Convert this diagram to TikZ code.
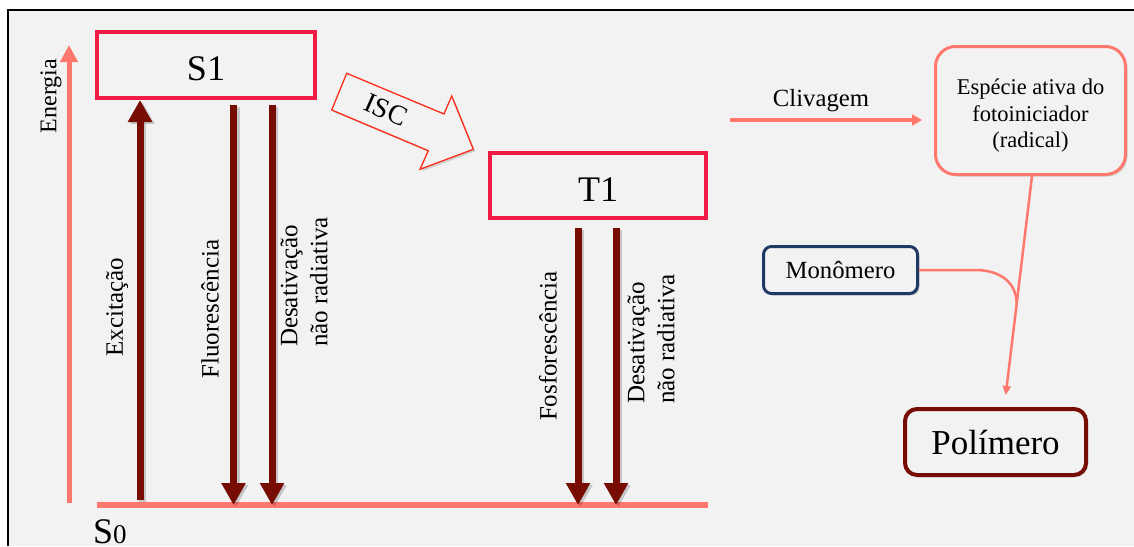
\documentclass[tikz,border=0pt]{standalone}
\usepackage{fontspec}
\setmainfont{Liberation Serif}
\usetikzlibrary{arrows.meta,shadows,calc}
\definecolor{bgc}{HTML}{F2F2F2}
\definecolor{salmon}{RGB}{255,120,110}
\definecolor{crim}{RGB}{240,28,70}
\definecolor{dred}{RGB}{118,12,2}
\definecolor{navy}{RGB}{31,56,100}
\definecolor{iscred}{RGB}{255,45,25}
\tikzset{
  shd/.style={drop shadow={shadow xshift=2pt,shadow yshift=-2pt,opacity=.3}},
  levelbox/.style={draw=crim,line width=4pt,fill=bgc,shd,font=\fontsize{36}{36}\selectfont,
    text height=31pt,text depth=0pt,inner sep=0pt},
  darr/.style={draw=dred,line width=7pt,-{Triangle[width=23pt,length=22pt]}},
  dshadow/.style={draw=black,opacity=.18,line width=7pt,-{Triangle[width=23pt,length=22pt]}},
  lbl/.style={font=\fontsize{25}{30}\selectfont,rotate=90,align=left},
  sarr/.style={draw=salmon,line width=3.5pt,-{Triangle[width=11pt,length=10pt]}},
  sline/.style={draw=salmon,line width=2.5pt},
  rbox/.style={fill=bgc,shd,rounded corners=#1,inner sep=0pt}
}
\begin{document}
\begin{tikzpicture}[x=1pt,y=-1pt]
\useasboundingbox (0,0) rectangle (1134,546);
\fill[white] (0,0) rectangle (1134,546);
\fill[bgc] (8,10) rectangle (1134,546);
\draw[line width=2pt] (8,546) -- (8,10) -- (1134,10);

% energy axis
\coordinate (en0) at (69,503);
\coordinate (en1) at (69,45);
\draw[salmon,line width=5pt,-{Triangle[width=17pt,length=17pt]}] (en0) -- (en1);
\node[font=\fontsize{24}{24}\selectfont,rotate=90] (energia) at (51,96) {Energia};

% ground state
\coordinate (s0a) at (97,505);
\coordinate (s0b) at (708,505);
\draw[salmon,line width=6pt] (s0a) -- (s0b);
\node[anchor=base west,inner sep=0pt] (S0) at (93,543) {\fontsize{36}{36}\selectfont S\fontsize{27}{27}\selectfont 0};

% level boxes
\node[levelbox,minimum width=218pt,minimum height=66pt] (S1) at (206,65) {S1};
\node[levelbox,minimum width=216pt,minimum height=65pt] (T1) at (598,185.5) {T1};

% arrow endpoints
\coordinate (exc0) at (140,500);
\coordinate (exc1) at (140,100);
\coordinate (flu0) at (233.5,105);
\coordinate (flu1) at (233.5,505);
\coordinate (dsa0) at (272,105);
\coordinate (dsa1) at (272,505);
\coordinate (fos0) at (578,228);
\coordinate (fos1) at (578,505);
\coordinate (dsb0) at (616,228);
\coordinate (dsb1) at (616,505);

\foreach \a/\b in {exc0/exc1,flu0/flu1,dsa0/dsa1,fos0/fos1,dsb0/dsb1}{
  \draw[dshadow,transform canvas={shift={(2.5pt,-2pt)}}] (\a) -- (\b);
}
\draw[darr] (exc0) -- (exc1);
\draw[darr] (flu0) -- (flu1);
\draw[darr] (dsa0) -- (dsa1);
\draw[darr] (fos0) -- (fos1);
\draw[darr] (dsb0) -- (dsb1);

\node[lbl] (excT) at (117,307) {Excitação};
\node[lbl] (fluT) at (210,309) {Fluorescência};
\node[lbl] (desAT) at (304,282) {Desativação\\não radiativa};
\node[lbl] (fosT) at (548,346) {Fosforescência};
\node[lbl] (desBT) at (651,339) {Desativação\\não radiativa};

% ISC block arrow
\draw[iscred,line width=1.3pt,fill=bgc,shd,line join=miter]
  (346.7,73.3) -- (444,114) -- (451.7,96) -- (473.3,149.3) -- (420,169.3)
  -- (428.3,150.7) -- (331.7,110) -- cycle;
\node[rotate=-24,font=\fontsize{28}{28}\selectfont] (isc) at (386,110) {ISC};

% right side
\node[rbox=20pt,draw=salmon,line width=3pt,minimum width=190pt,minimum height=128pt] (esp) at (1030.5,110.5) {};
\node[align=center,font=\fontsize{22.5}{26.5}\selectfont] (espT) at (1030.5,116) {Espécie ativa do\\fotoiniciador\\(radical)};
\node[rbox=8pt,draw=navy,line width=3pt,minimum width=154pt,minimum height=47pt,
  font=\fontsize{24.7}{28}\selectfont] (mon) at (840.5,270) {Monômero};
\node[rbox=12pt,draw=dred,line width=4pt,minimum width=181pt,minimum height=66pt,
  font=\fontsize{35}{40}\selectfont] (pol) at (995.5,442) {Polímero};

\coordinate (clv0) at (730,120);
\draw[sarr,shorten >=12pt] (clv0) -- (clv0 -| esp.west);
\node[anchor=base,font=\fontsize{24.7}{28}\selectfont] (clvT) at (821,106) {Clivagem};

\coordinate (espOut) at (1032,176);
\coordinate (polIn) at (1005.7,395);
\draw[sline,-{Triangle[width=8pt,length=9pt]}] (espOut) -- (polIn);
\coordinate (join) at (1016.7,303);
\draw[sline] (mon.east) -- (975,270) .. controls (1001,270) and (1016,283) .. (join);
\end{tikzpicture}
\end{document}
